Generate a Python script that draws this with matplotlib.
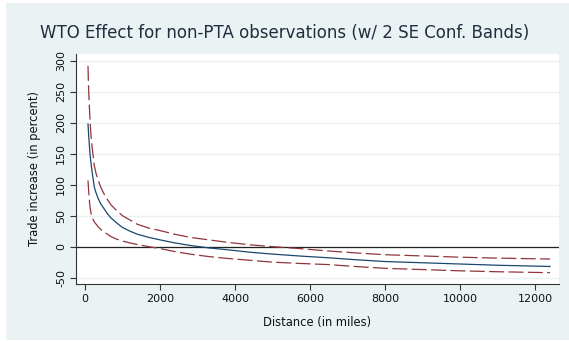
import matplotlib
matplotlib.use("Agg")
import matplotlib.pyplot as plt
from matplotlib.patches import Rectangle

distance = [80, 90, 100, 115, 130, 150, 170, 200, 250, 300, 350, 420, 500, 600, 700, 850, 1000,
            1200, 1400, 1700, 2000, 2400, 2800, 3300, 3800, 4400, 5000, 5700, 6500, 7200, 8000,
            9000, 10000, 11000, 12400]
central = [198, 188, 178, 165, 152, 140, 130, 116, 96, 86, 78, 69, 62, 53, 46, 38, 31,
           25, 20, 15, 11, 6, 2, -2, -5, -9, -12, -15, -18, -21, -24, -26, -28, -30, -32]
upper = [292, 268, 250, 228, 210, 188, 172, 155, 130, 117, 108, 96, 86, 76, 67, 58, 50,
         43, 36, 30, 26, 20, 15, 11, 7, 3, 0, -3, -7, -10, -13, -15, -17, -18.5, -20]
lower = [107, 97, 88, 76, 66, 58, 51, 46, 40, 36, 32, 28, 24, 20, 16, 12, 9,
         6, 3.4, 0, -3, -8, -12, -16, -19, -22, -25, -27, -29, -32, -35, -37, -39, -40.5, -42]

yticks = [-50, 0, 50, 100, 150, 200, 250, 300]
xticks = [0, 2000, 4000, 6000, 8000, 10000, 12000]

plt.rcParams['font.family'] = ['DejaVu Sans']

fig = plt.figure(figsize=(5.69, 3.41), dpi=100)
fig.patch.set_facecolor('white')
fig.patches.append(Rectangle((6/569, 1/341), 1 - 6/569, 1 - 4/341, transform=fig.transFigure,
                             facecolor='#EAF2F3', edgecolor='none', zorder=-10))

ax = fig.add_axes([76/569, 57/341, (559-76)/569, (284-53.5)/341])
ax.set_facecolor('white')

for t in yticks:
    ax.axhline(t, color='#EAF2F3', lw=1.0, zorder=0)
ax.axhline(0, color='#222222', lw=0.9, zorder=1)

ax.plot(distance, upper, color='#90353b', lw=0.9, dashes=(12, 3.5), zorder=3)
ax.plot(distance, lower, color='#90353b', lw=0.9, dashes=(12, 3.5), zorder=3)
ax.plot(distance, central, color='#1a476f', lw=0.9, zorder=4)

ax.set_xlim(-240, 12640)
ax.set_ylim(-60.3, 312)
ax.set_xticks(xticks)
ax.set_yticks(yticks)
ax.set_xticklabels([str(x) for x in xticks])
ax.set_yticklabels([str(y) for y in yticks], rotation=90, va='center')

for s in ['top', 'right']:
    ax.spines[s].set_visible(False)
for s in ['left', 'bottom']:
    ax.spines[s].set_color('#333333')
    ax.spines[s].set_linewidth(0.8)
ax.tick_params(axis='both', direction='out', length=4, width=0.8, color='#333333',
               labelsize=8, labelcolor='#111111', pad=3)

ax.set_xlabel('Distance (in miles)', fontsize=8.3, color='#111111', labelpad=9)
ax.set_ylabel('Trade increase (in percent)', fontsize=8.3, color='#111111', labelpad=11)

fig.text(0.5, 1 - 33/341, 'WTO Effect for non-PTA observations (w/ 2 SE Conf. Bands)',
         ha='center', va='center', fontsize=12, color='#1f2d3d')

fig.savefig('out.png', dpi=100, facecolor=fig.get_facecolor())
